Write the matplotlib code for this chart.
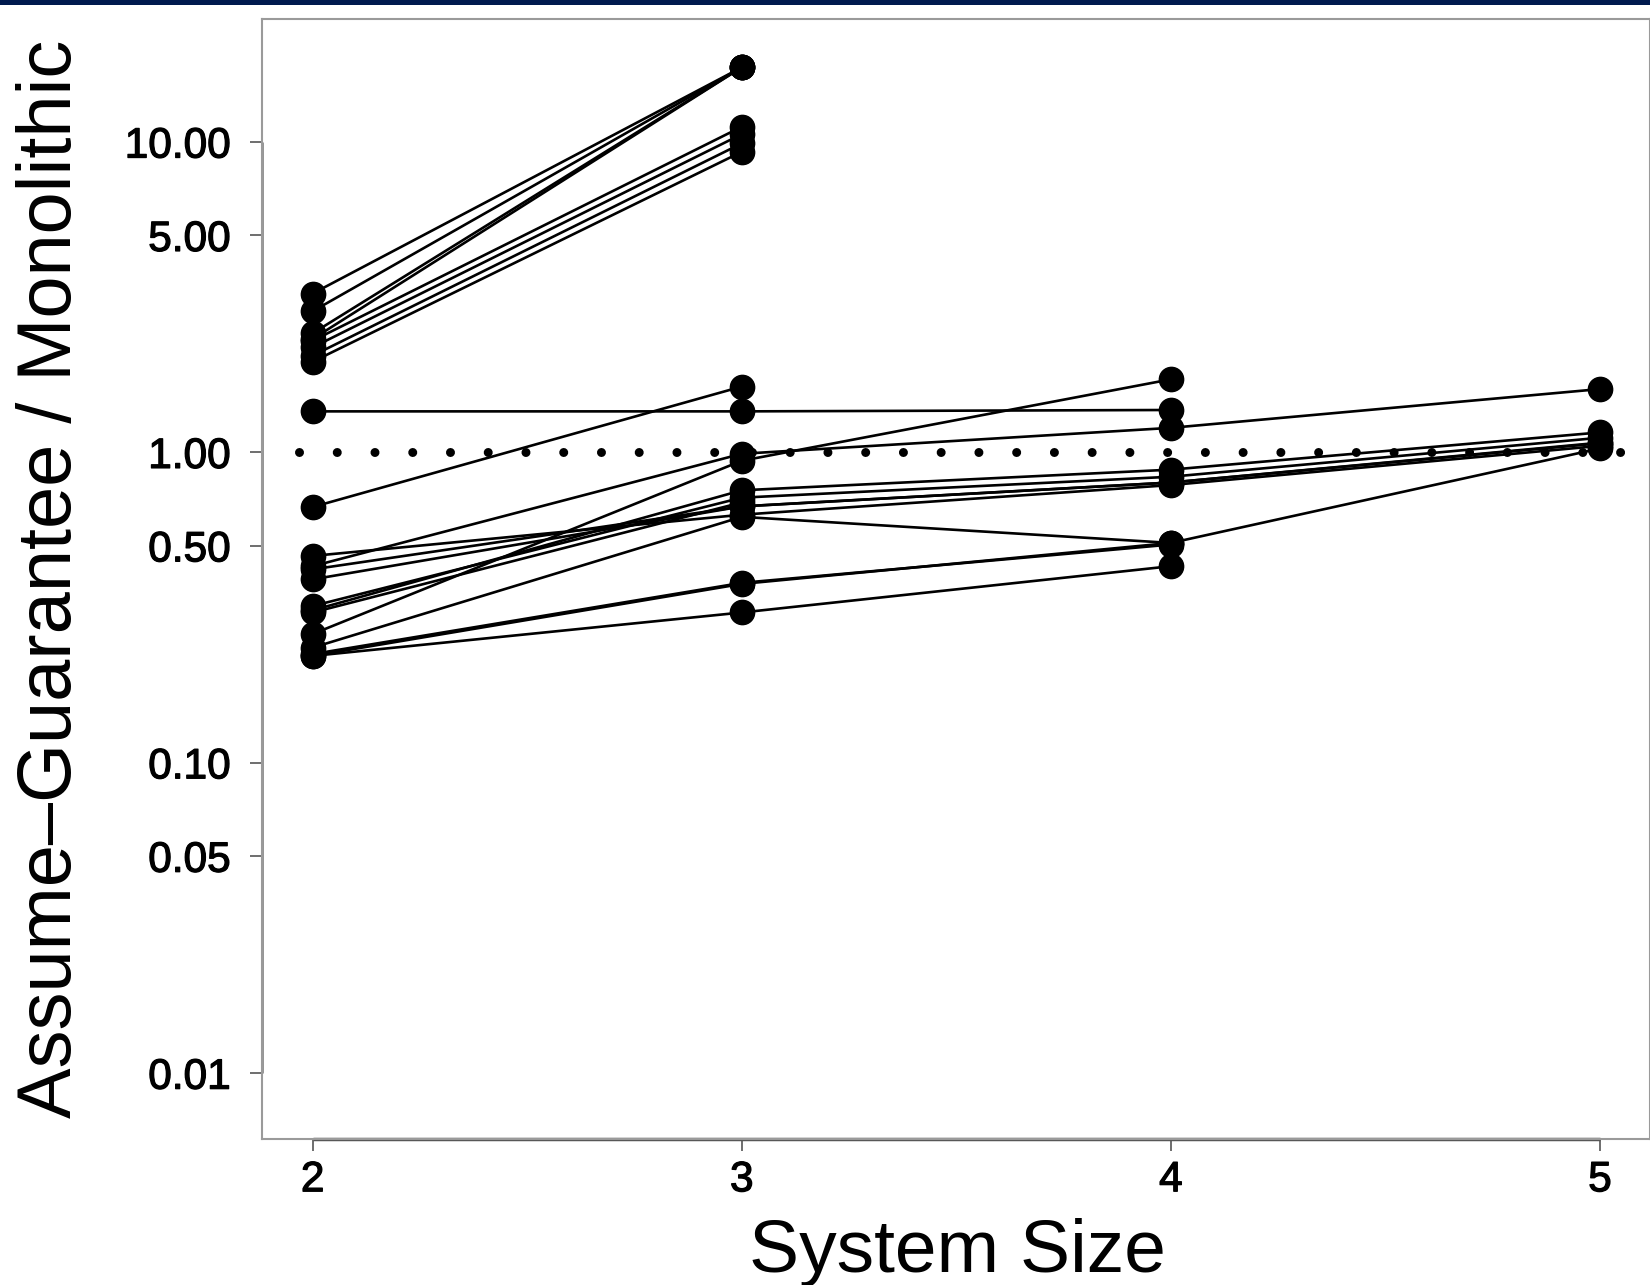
import matplotlib
matplotlib.use("Agg")
import matplotlib.pyplot as plt
import matplotlib.patheffects as pe
from matplotlib.transforms import blended_transform_factory

plt.rcParams["font.family"] = ["Liberation Sans", "DejaVu Sans"]

# System sizes on the x axis
sizes = [2, 3, 4, 5]

# Ratio (assume-guarantee / monolithic) for each benchmark
# runs that only reach size 3
runs_to_3 = [
    [3.25, 17.4],
    [2.85, 17.4],
    [2.42, 17.4],
    [2.32, 17.4],
    [2.29, 11.2],
    [2.18, 10.6],
    [2.05, 9.9],
    [1.96, 9.3],
    [0.667, 1.63],
    [0.305, 0.69],
]
# runs that reach size 4
runs_to_4 = [
    [1.356, 1.356, 1.37],
    [0.26, 0.94, 1.72],
    [0.221, 0.377, 0.511],
    [0.224, 0.38, 0.505],
    [0.221, 0.305, 0.43],
]
# runs that reach size 5
runs_to_5 = [
    [0.43, 0.99, 1.2, 1.6],
    [0.235, 0.62, 0.511, 1.03],
    [0.464, 0.63, 0.785, 1.05],
    [0.42, 0.67, 0.80, 1.07],
    [0.39, 0.67, 0.80, 1.075],
    [0.32, 0.715, 0.835, 1.115],
    [0.31, 0.755, 0.88, 1.16],
]

ytick_vals = [0.01, 0.05, 0.10, 0.50, 1.00, 5.00, 10.00]
ytick_labels = ["0.01", "0.05", "0.10", "0.50", "1.00", "5.00", "10.00"]

W, H = 1650, 1285
fig = plt.figure(figsize=(W / 100, H / 100), dpi=100)
fig.patch.set_facecolor("white")

# dark band along the top edge
fig.add_artist(plt.Rectangle((0, 1 - 5 / H), 1, 5 / H, transform=fig.transFigure,
                             color="#001a4e", lw=0))

ax = fig.add_axes([262 / W, 1 - 1138.6 / H, 1388 / W, (1138.6 - 18.9) / H])
ax.set_yscale("log")

for vals in runs_to_3 + runs_to_4 + runs_to_5:
    ax.plot(sizes[:len(vals)], vals, color="black", lw=1.9, marker="o", ms=17.5,
            mfc="black", mec="black", zorder=3)

# reference line at ratio 1
ax.plot([1.969, 5.052], [1, 1], color="black", lw=6.5,
        linestyle=(0, (0.001, 4.18)), dash_capstyle="round", zorder=4)

ax.set_xlim(1.882, 5.1165)
ax.set_ylim(0.006156, 24.93)

ax.set_xticks(sizes)
ax.set_xticklabels([str(s) for s in sizes])
ax.set_yticks(ytick_vals)
ax.set_yticklabels(ytick_labels)
ax.minorticks_off()

for s in ax.spines.values():
    s.set_color("#9a9a9a")
    s.set_linewidth(1.5)

# bottom axis line between the outer ticks, like base R
tx = blended_transform_factory(ax.transData, ax.transAxes)
ax.plot([2, 5], [0, 0], transform=tx, color="#555555", lw=2.5, clip_on=False,
        solid_capstyle="butt")
ty = blended_transform_factory(ax.transAxes, ax.transData)
ax.plot([0, 0], [0.01, 10], transform=ty, color="#8a8a8a", lw=2, clip_on=False,
        solid_capstyle="butt")

ax.tick_params(axis="both", direction="out", length=8.6, width=1.2, color="#555555",
               labelcolor="black", labelsize=30.5)
ax.tick_params(axis="x", pad=7)
ax.tick_params(axis="y", pad=14)
heavy = [pe.withStroke(linewidth=0.9, foreground="black")]
for lab in ax.get_xticklabels() + ax.get_yticklabels():
    lab.set_path_effects(heavy)

fig.text(957 / W, 1 - 1272 / H, "System Size", fontsize=54, ha="center", va="baseline")
fig.text(16 / W, 0.5496, "Assume\u2013Guarantee / Monolithic", fontsize=54.5,
         rotation=90, ha="left", va="center")

fig.savefig("out.png", dpi=100)
